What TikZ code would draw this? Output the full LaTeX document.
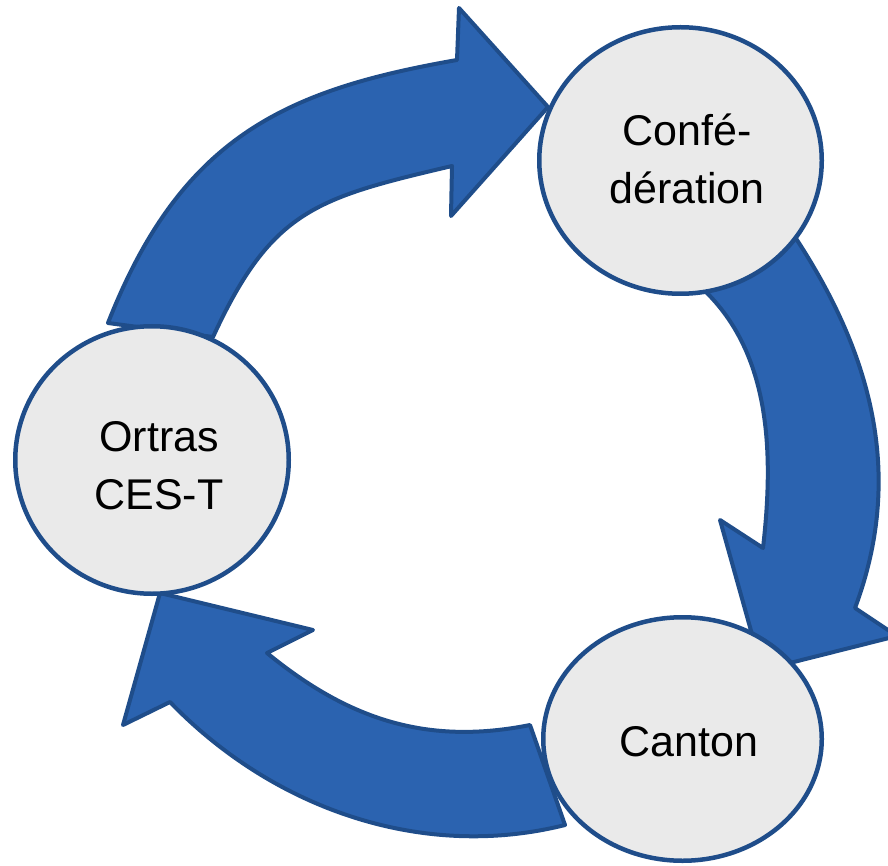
\documentclass[tikz,border=0pt]{standalone}
\usepackage{fontspec}
\setmainfont{Liberation Sans}
\usetikzlibrary{shapes.geometric}
\definecolor{arrowfill}{RGB}{43,99,176}
\definecolor{edgeblue}{RGB}{31,77,138}
\definecolor{discfill}{RGB}{234,234,234}
\begin{document}
\begin{tikzpicture}[x=1pt,y=-1pt,
  blockarrow/.style={fill=arrowfill,draw=edgeblue,line width=4pt,line join=round},
  disc/.style={ellipse,fill=discfill,draw=edgeblue,line width=4.5pt,inner sep=0pt},
  lbl/.style={align=center,font=\fontsize{43}{58}\selectfont,text=black,inner sep=0pt}]
\useasboundingbox (0,0) rectangle (888,866);
\clip (0,0) rectangle (888,866);
% arrow Ortras -> Confederation
\filldraw[blockarrow] (108,323) .. controls (181,137) and (285,90) .. (457,60)
  -- (459,8) -- (548,107) -- (451,216) -- (452,166)
  .. controls (316,198) and (271.5,210) .. (213,337) -- cycle;
% arrow Confederation -> Canton
\filldraw[blockarrow] (782,214) -- (797,240) .. controls (873,357) and (904,477) .. (855,608)
  -- (897,636) -- (762,670) -- (720,520) -- (763,548)
  .. controls (773.4,457) and (771.8,358) .. (707,293) -- (690,276) -- cycle;
% arrow Canton -> Ortras
\filldraw[blockarrow] (530,725) -- (565,825) .. controls (421.6,861) and (272.7,808.3) .. (170,702)
  -- (123,725) -- (160,593) -- (313,630) -- (267,653)
  .. controls (348.3,719.5) and (427,745.6) .. (530,725) -- cycle;
% circles
\node[disc,minimum width=282.5pt,minimum height=266.5pt] (conf) at (680.5,160.5) {};
\node[disc,minimum width=273.5pt,minimum height=267.5pt] (ortras) at (152,460) {};
\node[disc,minimum width=278.5pt,minimum height=243.5pt] (canton) at (682.5,739) {};
% labels
\node[lbl] (conftext) at (687,159) {Confé-\\dération};
\node[lbl] (ortrastext) at (159,466) {Ortras\\CES-T};
\node[lbl] (cantontext) at (689,742) {Canton};
\end{tikzpicture}
\end{document}
